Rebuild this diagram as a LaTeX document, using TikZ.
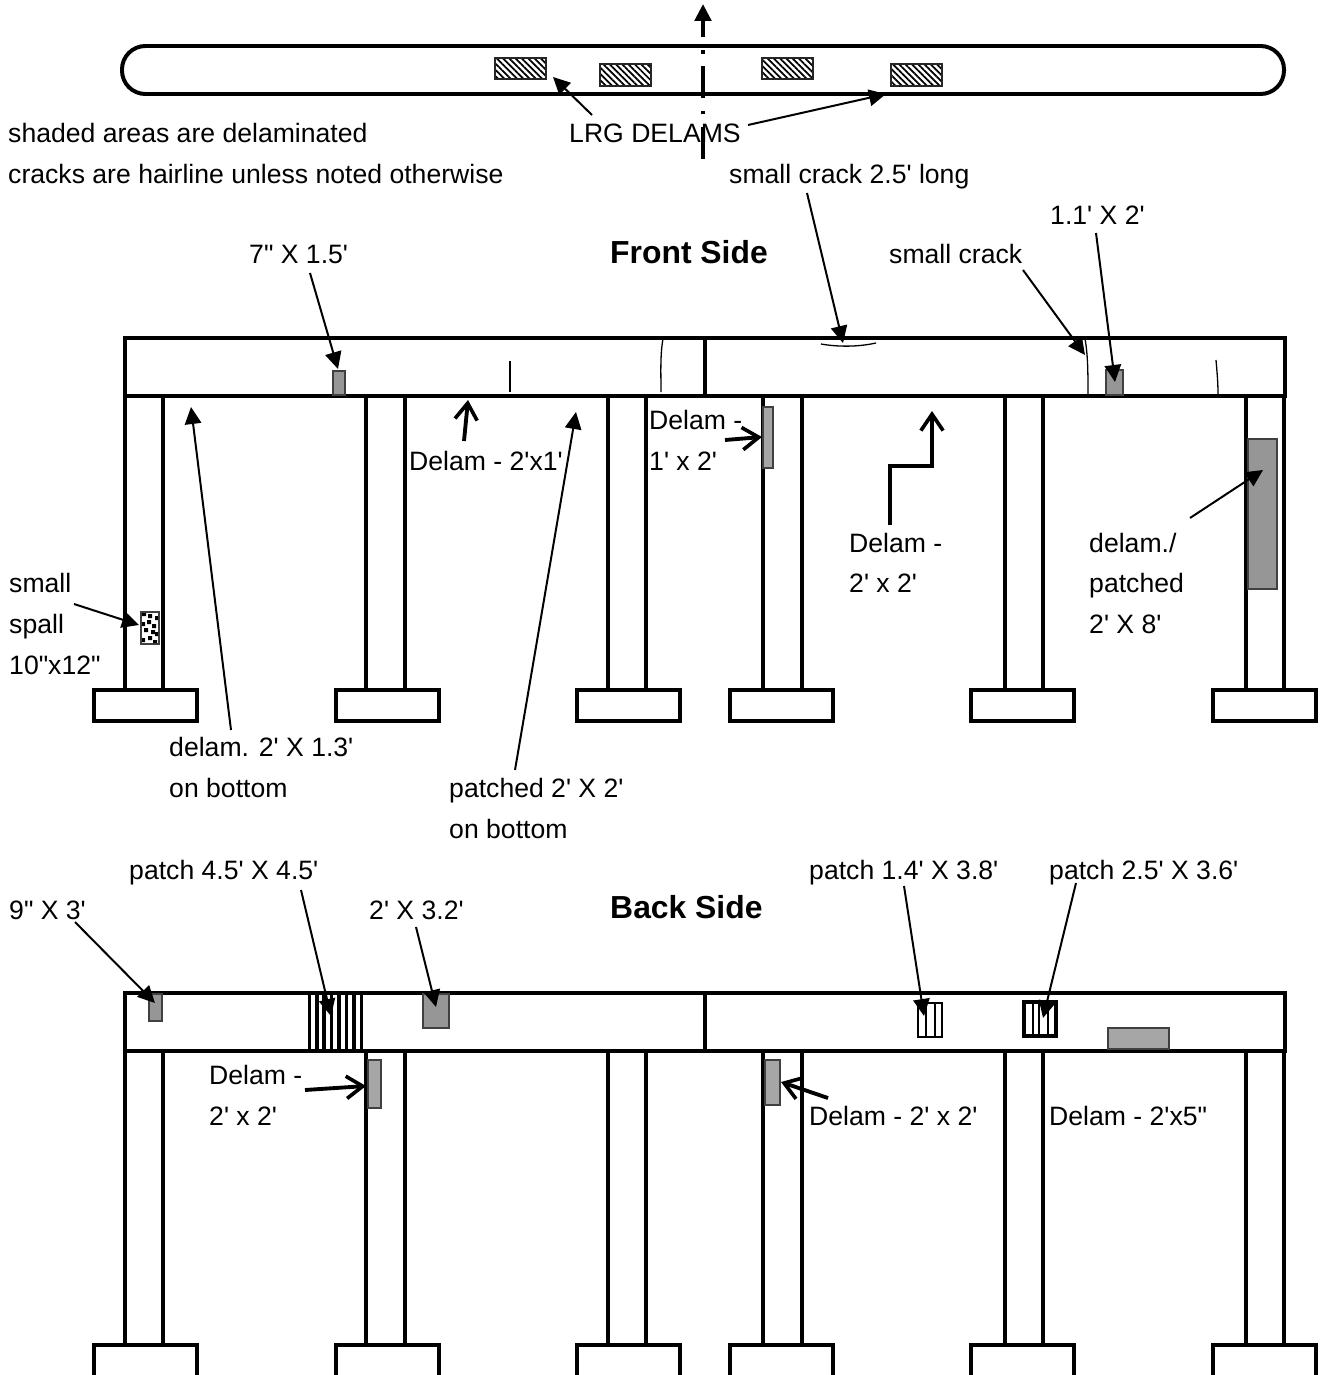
\documentclass[tikz,border=0pt]{standalone}
\usepackage{xcolor}
\usepackage{fontspec}
\setmainfont{Liberation Sans}[Ligatures=TeXOff]
\usetikzlibrary{arrows.meta,patterns.meta}
\definecolor{delam_dark}{RGB}{150,150,150}
\definecolor{delam_light}{RGB}{166,166,166}
\tikzset{
    member/.style={line width=3.4pt, black},
    crack/.style={line width=1.1pt, black},
    callout/.style={line width=1.7pt, -{Triangle[length=14.5pt,width=14pt]}},
    openarrow/.style={line width=3.3pt, -{Straight Barb[length=14pt,width=19pt,line width=3.1pt]}},
    delamdark/.style={draw=black!75, line width=1.2pt, fill=delam_dark},
    delamlight/.style={draw=black!75, line width=1.2pt, fill=delam_light},
    hatchbox/.style={draw=black!85, line width=1.5pt, pattern={Lines[angle=-45,distance=3.8pt,line width=1.5pt]}},
    stripeline/.style={line width=1.5pt, black},
    stripebox/.style={draw=black, line width=1.5pt, fill=white},
    note/.style={anchor=base west, inner sep=0pt, font=\fontsize{22.7}{27}\selectfont},
    heading/.style={anchor=base west, inner sep=0pt, font=\fontsize{27.2}{32}\selectfont\bfseries}
}

\begin{document}
\begin{tikzpicture}[x=0.03cm,y=-0.03cm]
        \useasboundingbox (0,0) rectangle (1320,1375);
        % Plan view
        \draw[member, rounded corners=20pt] (122,46) rectangle (1284,94);
        \draw[hatchbox] (495,58) rectangle (546,79);
        \draw[hatchbox] (600,64) rectangle (651,86);
        \draw[hatchbox] (762,58) rectangle (813,79);
        \draw[hatchbox] (891,64) rectangle (942,86);
        % Centre line
        \coordinate (axis_s) at (703,159);
        \coordinate (axis_n) at (703,4);
        \draw[line width=3.4pt, dash pattern=on 27pt off 11pt on 3pt off 11pt, -{Triangle[length=14.5pt,width=14pt]}] (axis_s) -- (axis_n);
        % Front side deck
        \draw[member] (125,338) rectangle (1285,396);
        \draw[member] (705,338) -- (705,396);
        % Front side columns
        \draw[member] (125,396) -- (125,690);
        \draw[member] (163,396) -- (163,690);
        \draw[member] (366,396) -- (366,690);
        \draw[member] (405,396) -- (405,690);
        \draw[member] (608,396) -- (608,690);
        \draw[member] (646,396) -- (646,690);
        \draw[member] (763,396) -- (763,690);
        \draw[member] (802,396) -- (802,690);
        \draw[member] (1005,396) -- (1005,690);
        \draw[member] (1043,396) -- (1043,690);
        \draw[member] (1246,396) -- (1246,690);
        \draw[member] (1284,396) -- (1284,690);
        % Front side footings
        \draw[member] (94,690) rectangle (197,721);
        \draw[member] (336,690) rectangle (439,721);
        \draw[member] (577,690) rectangle (680,721);
        \draw[member] (730,690) rectangle (833,721);
        \draw[member] (971,690) rectangle (1074,721);
        \draw[member] (1213,690) rectangle (1316,721);
        % Front side delams
        \draw[delamdark] (333,371) rectangle (345,395);
        \draw[delamdark] (1106,370) rectangle (1123,395);
        \draw[delamlight] (763,407) rectangle (773,468);
        \draw[delamdark] (1248,439) rectangle (1277,589);
        \draw[draw=black!75, line width=1.5pt, fill=white] (141,612) rectangle (159,644);
        \fill[black] (142,613) rectangle +(4,3) (148,614) rectangle +(4,4) (155,616) rectangle +(3,4)
                     (147,620) rectangle +(4,4) (142,622) rectangle +(3,4) (152,624) rectangle +(4,4)
                     (144,628) rectangle +(4,4) (151,630) rectangle +(4,4) (155,632) rectangle +(3,4)
                     (148,636) rectangle +(4,4) (142,638) rectangle +(3,4) (153,640) rectangle +(4,3);
        % Front side cracks
        \draw[crack] (510,361) -- (510,392);
        \draw[crack] (663,339) .. controls (660,355) and (661,375) .. (661,392);
        \draw[crack] (1085,339) .. controls (1088,355) and (1088,375) .. (1088,395);
        \draw[crack] (1216,360) .. controls (1217,372) and (1218,382) .. (1218,394);
        \draw[crack] (821,344) .. controls (838,347) and (858,347) .. (876,343);
        % Back side deck
        \draw[member] (125,993) rectangle (1285,1051);
        \draw[member] (705,993) -- (705,1051);
        % Back side columns
        \draw[member] (125,1051) -- (125,1345);
        \draw[member] (163,1051) -- (163,1345);
        \draw[member] (366,1051) -- (366,1345);
        \draw[member] (405,1051) -- (405,1345);
        \draw[member] (608,1051) -- (608,1345);
        \draw[member] (646,1051) -- (646,1345);
        \draw[member] (763,1051) -- (763,1345);
        \draw[member] (802,1051) -- (802,1345);
        \draw[member] (1005,1051) -- (1005,1345);
        \draw[member] (1043,1051) -- (1043,1345);
        \draw[member] (1246,1051) -- (1246,1345);
        \draw[member] (1284,1051) -- (1284,1345);
        % Back side footings
        \draw[member] (94,1375) -- (94,1345) -- (197,1345) -- (197,1375);
        \draw[member] (336,1375) -- (336,1345) -- (439,1345) -- (439,1375);
        \draw[member] (577,1375) -- (577,1345) -- (680,1345) -- (680,1375);
        \draw[member] (730,1375) -- (730,1345) -- (833,1345) -- (833,1375);
        \draw[member] (971,1375) -- (971,1345) -- (1074,1345) -- (1074,1375);
        \draw[member] (1213,1375) -- (1213,1345) -- (1316,1345) -- (1316,1375);
        % Back side delams
        \draw[delamdark] (149,994) rectangle (162,1021);
        \draw[stripeline, line width=3pt] (309.5,993) -- (309.5,1051) (317,993) -- (317,1051) (324,993) -- (324,1051) (331.5,993) -- (331.5,1051)
                          (339,993) -- (339,1051) (346.5,993) -- (346.5,1051) (354,993) -- (354,1051) (361.5,993) -- (361.5,1051);
        \draw[delamdark] (423,994) rectangle (449,1028);
        \draw[delamlight] (368,1060) rectangle (381,1108);
        \draw[delamlight] (765,1060) rectangle (780,1105);
        \draw[stripebox] (918,1003) rectangle (942,1037);
        \draw[stripeline] (926,1003) -- (926,1037) (935,1003) -- (935,1037);
        \draw[stripebox, line width=2.6pt] (1024,1002) rectangle (1056,1036);
        \draw[stripeline] (1033,1002) -- (1033,1036) (1039,1002) -- (1039,1036) (1048,1002) -- (1048,1036);
        \draw[delamlight] (1108,1028) rectangle (1169,1049);
        % Labels
        \node[note] (shaded) at (8,142) {shaded areas are delaminated};
        \node[note] (hairline) at (8,183) {cracks are hairline unless noted otherwise};
        \node[note] (lrg) at (569,142) {LRG DELAMS};
        \node[note] (crack_long) at (729,183) {small crack 2.5' long};
        \node[note] (front_a) at (1050,224) {1.1' X 2'};
        \node[note] (front_b) at (249,263) {7" X 1.5'};
        \node[heading] (front) at (610,263) {Front Side};
        \node[note] (crack_small) at (889,263) {small crack};
        \node[note] (front_c1) at (649,429) {Delam -};
        \node[note] (front_c2) at (649,470) {1' x 2'};
        \node[note] (front_d) at (409,470) {Delam - 2'x1'};
        \node[note] (front_e1) at (849,552) {Delam -};
        \node[note] (front_e2) at (849,592) {2' x 2'};
        \node[note] (front_f1) at (1089,552) {delam./};
        \node[note] (front_f2) at (1089,592) {patched};
        \node[note] (front_f3) at (1089,633) {2' X 8'};
        \node[note] (spall_a) at (9,592) {small};
        \node[note] (spall_b) at (9,633) {spall};
        \node[note] (spall_c) at (9,674) {10"x12"};
        \node[note] (front_g1) at (169,756) {delam. 2' X 1.3'};
        \node[note] (front_g2) at (169,797) {on bottom};
        \node[note] (front_h1) at (449,797) {patched 2' X 2'};
        \node[note] (front_h2) at (449,838) {on bottom};
        \node[note] (back_a) at (129,879) {patch 4.5' X 4.5'};
        \node[note] (back_b) at (9,919) {9" X 3'};
        \node[note] (back_c) at (369,919) {2' X 3.2'};
        \node[heading] (back) at (610,918) {Back Side};
        \node[note] (back_d) at (809,879) {patch 1.4' X 3.8'};
        \node[note] (back_e) at (1049,879) {patch 2.5' X 3.6'};
        \node[note] (back_f1) at (209,1084) {Delam -};
        \node[note] (back_f2) at (209,1125) {2' x 2'};
        \node[note] (back_g) at (809,1125) {Delam - 2' x 2'};
        \node[note] (back_h) at (1049,1125) {Delam - 2'x5"};
        % Arrow ends
        \coordinate (lrg_l) at (592,115);
        \coordinate (lrg_r) at (748,125);
        \coordinate (lrg_la) at (553,77);
        \coordinate (lrg_ra) at (886,94);
        \coordinate (front_at) at (1096,233);
        \coordinate (front_ah) at (1115,382);
        \coordinate (front_bt) at (310,273);
        \coordinate (front_bh) at (338,369);
        \coordinate (long_t) at (807,193);
        \coordinate (long_h) at (843,343);
        \coordinate (small_t) at (1023,270);
        \coordinate (small_h) at (1085,355);
        \coordinate (front_ct) at (725,440);
        \coordinate (front_ch) at (762,437);
        \coordinate (front_dt) at (464,441);
        \coordinate (front_dh) at (468,400);
        \coordinate (front_et) at (890,525);
        \coordinate (front_eb) at (890,466);
        \coordinate (front_ec) at (932,466);
        \coordinate (front_eh) at (932,411);
        \coordinate (front_ft) at (1190,518);
        \coordinate (front_fh) at (1263,470);
        \coordinate (spall_t) at (74,604);
        \coordinate (spall_h) at (139,625);
        \coordinate (front_gt) at (231,730);
        \coordinate (front_gh) at (191,407);
        \coordinate (front_ht) at (515,770);
        \coordinate (front_hh) at (576,412);
        \coordinate (back_at) at (301,890);
        \coordinate (back_ah) at (331,1016);
        \coordinate (back_bt) at (75,922);
        \coordinate (back_bh) at (155,1003);
        \coordinate (back_ct) at (416,927);
        \coordinate (back_ch) at (436,1007);
        \coordinate (back_dt) at (904,886);
        \coordinate (back_dh) at (924,1016);
        \coordinate (back_et) at (1076,883);
        \coordinate (back_eh) at (1043,1018);
        \coordinate (back_ft) at (305,1090);
        \coordinate (back_fh) at (366,1086);
        \coordinate (back_gt) at (828,1098);
        \coordinate (back_gh) at (781,1082);
        % Arrows
        \draw[callout] (lrg_l) -- (lrg_la);
        \draw[callout] (lrg_r) -- (lrg_ra);
        \draw[callout] (front_at) -- (front_ah);
        \draw[callout] (front_bt) -- (front_bh);
        \draw[callout] (long_t) -- (long_h);
        \draw[callout] (small_t) -- (small_h);
        \draw[callout] (front_ft) -- (front_fh);
        \draw[callout] (spall_t) -- (spall_h);
        \draw[callout] (front_gt) -- (front_gh);
        \draw[callout] (front_ht) -- (front_hh);
        \draw[callout] (back_at) -- (back_ah);
        \draw[callout] (back_bt) -- (back_bh);
        \draw[callout] (back_ct) -- (back_ch);
        \draw[callout] (back_dt) -- (back_dh);
        \draw[callout] (back_et) -- (back_eh);
        \draw[openarrow] (front_ct) -- (front_ch);
        \draw[openarrow] (front_dt) -- (front_dh);
        \draw[openarrow] (front_et) -- (front_eb) -- (front_ec) -- (front_eh);
        \draw[openarrow] (back_ft) -- (back_fh);
        \draw[openarrow] (back_gt) -- (back_gh);
\end{tikzpicture}
\end{document}
